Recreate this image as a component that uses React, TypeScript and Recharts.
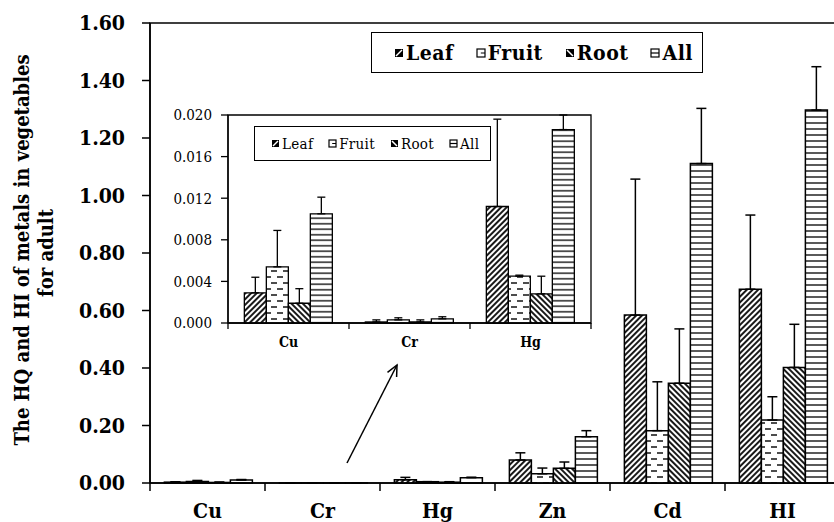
import React from "react";
import { Bar, BarChart, ErrorBar, ReferenceArea, XAxis, YAxis } from "recharts";

const categories = ["Cu", "Cr", "Hg", "Zn", "Cd", "HI"];
const insetCategories = ["Cu", "Cr", "Hg"];
const seriesNames = ["Leaf", "Fruit", "Root", "All"];

const leafValues = [0.0029, 0.0001, 0.0112, 0.08, 0.584, 0.674];
const leafErrors = [0.0015, 0.0002, 0.0084, 0.025, 0.473, 0.258];
const fruitValues = [0.0054, 0.0003, 0.0045, 0.032, 0.182, 0.219];
const fruitErrors = [0.0035, 0.0002, 0.0001, 0.02, 0.17, 0.081];
const rootValues = [0.0019, 0.0001, 0.0028, 0.051, 0.347, 0.402];
const rootErrors = [0.0014, 0.0002, 0.0017, 0.022, 0.189, 0.15];
const allValues = [0.0105, 0.0004, 0.0186, 0.161, 1.111, 1.297];
const allErrors = [0.0016, 0.0002, 0.0014, 0.021, 0.192, 0.151];

const mainTicks = [0, 0.2, 0.4, 0.6, 0.8, 1.0, 1.2, 1.4, 1.6];
const insetTicks = [0, 0.004, 0.008, 0.012, 0.016, 0.02];

const data = categories.map((name, i) => ({
  name,
  leaf: leafValues[i],
  leafErr: [0, leafErrors[i]],
  fruit: fruitValues[i],
  fruitErr: [0, fruitErrors[i]],
  root: rootValues[i],
  rootErr: [0, rootErrors[i]],
  all: allValues[i],
  allErr: [0, allErrors[i]],
}));
const insetData = data.filter((d) => insetCategories.includes(d.name));

const SERIF = "DejaVu Serif Condensed, DejaVu Serif, serif";

// main plot: left 150, top 23, width 690, bottom 483
const MAIN_BAND = 690 / categories.length;
// inset plot: left 228 (page), top 115, width 363, height 208
const INSET_BAND = 363 / insetCategories.length;

function Patterns({ prefix, allGap }: { prefix: string; allGap: number }) {
  return (
    <defs>
      <pattern id={prefix + "leaf"} width={4} height={4} patternUnits="userSpaceOnUse" patternTransform="rotate(45)">
        <rect width={4} height={4} fill="#fff" />
        <line x1={1} y1={0} x2={1} y2={4} stroke="#000" strokeWidth={1.8} />
      </pattern>
      <pattern id={prefix + "root"} width={4} height={4} patternUnits="userSpaceOnUse" patternTransform="rotate(-45)">
        <rect width={4} height={4} fill="#fff" />
        <line x1={1} y1={0} x2={1} y2={4} stroke="#000" strokeWidth={1.8} />
      </pattern>
      <pattern id={prefix + "all"} width={8} height={allGap} patternUnits="userSpaceOnUse">
        <rect width={8} height={allGap} fill="#fff" />
        <line x1={0} y1={allGap / 2} x2={8} y2={allGap / 2} stroke="#000" strokeWidth={1.3} />
      </pattern>
      <pattern id={prefix + "fruit"} width={12} height={12} patternUnits="userSpaceOnUse">
        <rect width={12} height={12} fill="#fff" />
        <line x1={3} y1={3} x2={9} y2={3} stroke="#000" strokeWidth={1.4} />
        <line x1={-3} y1={9} x2={3} y2={9} stroke="#000" strokeWidth={1.4} />
        <line x1={9} y1={9} x2={15} y2={9} stroke="#000" strokeWidth={1.4} />
      </pattern>
    </defs>
  );
}

function Swatch({ kind, size }: { kind: string; size: number }) {
  const s = size;
  return (
    <svg width={s + 2} height={s + 2} style={{ marginRight: 2, flex: "none" }}>
      {kind === "Leaf" && (
        <g>
          <rect x={1} y={1} width={s} height={s} fill="#000" />
          <line x1={2} y1={s} x2={s} y2={2} stroke="#fff" strokeWidth={1.5} />
        </g>
      )}
      {kind === "Root" && (
        <g>
          <rect x={1} y={1} width={s} height={s} fill="#000" />
          <line x1={2} y1={2} x2={s} y2={s} stroke="#fff" strokeWidth={1.5} />
        </g>
      )}
      {kind === "Fruit" && (
        <g>
          <rect x={1} y={1} width={s} height={s} fill="#fff" stroke="#000" strokeWidth={1.2} />
          <line x1={s * 0.6} y1={s / 2 + 1} x2={s + 1} y2={s / 2 + 1} stroke="#000" strokeWidth={1} />
        </g>
      )}
      {kind === "All" && (
        <g>
          <rect x={1} y={1} width={s} height={s} fill="#fff" stroke="#000" strokeWidth={1.2} />
          <line x1={1} y1={s / 2 + 1} x2={s + 1} y2={s / 2 + 1} stroke="#000" strokeWidth={1.2} />
        </g>
      )}
    </svg>
  );
}

function LegendBox(props: {
  left: number; top: number; width: number; height: number;
  fontSize: number; bold: boolean; gap: number; pad: number; swatch: number; spacing: number;
}) {
  return (
    <div
      style={{
        position: "absolute", left: props.left, top: props.top, width: props.width, height: props.height,
        boxSizing: "border-box", border: "1.5px solid #000", background: "#fff",
        display: "flex", alignItems: "center", paddingLeft: props.pad, gap: props.gap,
        fontFamily: SERIF, fontSize: props.fontSize, fontWeight: props.bold ? "bold" : "normal",
        fontStyle: "normal", letterSpacing: props.spacing, color: "#000", zIndex: 3, whiteSpace: "nowrap",
      }}
    >
      {seriesNames.map((n) => (
        <div key={n} style={{ display: "flex", alignItems: "center" }}>
          <Swatch kind={n} size={props.swatch} />
          <span>{n}</span>
        </div>
      ))}
    </div>
  );
}

const MainTick = (props: any) => {
  const { x, payload, index } = props;
  const last = index === categories.length - 1;
  return (
    <g>
      <line x1={x - MAIN_BAND / 2} x2={x - MAIN_BAND / 2} y1={483} y2={491} stroke="#000" strokeWidth={1.5} />
      {last && <line x1={x + MAIN_BAND / 2} x2={x + MAIN_BAND / 2} y1={483} y2={491} stroke="#000" strokeWidth={1.5} />}
      <text x={x} y={518} textAnchor="middle" fontFamily={SERIF} fontWeight="bold" fontSize={21} fill="#000">
        {payload.value}
      </text>
    </g>
  );
};

const InsetTick = (props: any) => {
  const { x, payload, index } = props;
  const last = index === insetCategories.length - 1;
  return (
    <g>
      <line x1={x - INSET_BAND / 2} x2={x - INSET_BAND / 2} y1={223} y2={229} stroke="#000" strokeWidth={1.3} />
      {last && <line x1={x + INSET_BAND / 2} x2={x + INSET_BAND / 2} y1={223} y2={229} stroke="#000" strokeWidth={1.3} />}
      <text x={x} y={247} textAnchor="middle" fontFamily={SERIF} fontWeight="bold" fontSize={14} fill="#000">
        {payload.value}
      </text>
    </g>
  );
};

function seriesBars(prefix: string, capWidth: number, stroke: number) {
  const keys = ["leaf", "fruit", "root", "all"];
  return keys.map((k) => (
    <Bar key={k} dataKey={k} fill={`url(#${prefix}${k})`} stroke="#000" strokeWidth={stroke} isAnimationActive={false}>
      <ErrorBar dataKey={k + "Err"} width={capWidth} stroke="#000" strokeWidth={stroke} direction="y" />
    </Bar>
  ));
}

export default function App() {
  const axisStroke = { stroke: "#000", strokeWidth: 1.5 };
  return (
    <div style={{ position: "absolute", left: 0, top: 0, width: 834, height: 522, overflow: "hidden", background: "#fff" }}>
      <BarChart
        width={840}
        height={522}
        data={data}
        margin={{ top: 23, right: 0, bottom: 0, left: 0 }}
        barCategoryGap="12.5%"
        barGap={0}
      >
        <Patterns prefix="m" allGap={6} />
        <ReferenceArea x1="Cu" x2="HI" y1={0} y2={1.6} fill="none" stroke="#000" strokeWidth={1.5} />
        <XAxis dataKey="name" height={39} interval={0} axisLine={axisStroke} tickLine={false} tick={MainTick} />
        <YAxis
          width={150}
          domain={[0, 1.6]}
          ticks={mainTicks}
          tickFormatter={(v: number) => v.toFixed(2)}
          tickSize={8}
          tickMargin={17}
          axisLine={axisStroke}
          tickLine={axisStroke}
          tick={{ fill: "#000", fontSize: 21, fontWeight: "bold", fontFamily: SERIF }}
        />
        {seriesBars("m", 5, 1.5)}
      </BarChart>

      <div style={{ position: "absolute", left: 160, top: 100, zIndex: 2 }}>
        <BarChart
          width={434}
          height={255}
          data={insetData}
          margin={{ top: 15, right: 3, bottom: 0, left: 0 }}
          barCategoryGap="13.5%"
          barGap={0}
        >
          <Patterns prefix="i" allGap={5.5} />
          <ReferenceArea x1="Cu" x2="Hg" y1={0} y2={0.02} fill="none" stroke="#000" strokeWidth={1.3} />
          <XAxis dataKey="name" height={32} interval={0} axisLine={{ stroke: "#000", strokeWidth: 1.3 }} tickLine={false} tick={InsetTick} />
          <YAxis
            width={68}
            domain={[0, 0.02]}
            ticks={insetTicks}
            tickFormatter={(v: number) => v.toFixed(3)}
            tickSize={7}
            tickMargin={9}
            axisLine={{ stroke: "#000", strokeWidth: 1.3 }}
            tickLine={{ stroke: "#000", strokeWidth: 1.3 }}
            tick={{ fill: "#000", fontSize: 15, fontFamily: SERIF }}
          />
          {seriesBars("i", 4, 1.3)}
        </BarChart>
      </div>

      <LegendBox left={371} top={32} width={332} height={41} fontSize={21} bold gap={22} pad={22} swatch={8} spacing={0.5} />
      <LegendBox left={254} top={126} width={237} height={35} fontSize={15} bold={false} gap={15} pad={16} swatch={7} spacing={0.3} />

      <svg width={834} height={522} style={{ position: "absolute", left: 0, top: 0, zIndex: 4, pointerEvents: "none" }}>
        <text
          transform="translate(29 250) rotate(-90)"
          textAnchor="middle"
          fontFamily={SERIF}
          fontWeight="bold"
          fontSize={20}
          fill="#000"
        >
          The HQ and HI of metals in vegetables
        </text>
        <text
          transform="translate(53 253) rotate(-90)"
          textAnchor="middle"
          fontFamily={SERIF}
          fontWeight="bold"
          fontSize={20}
          fill="#000"
        >
          for adult
        </text>
        <line x1={347} y1={463} x2={397} y2={365} stroke="#000" strokeWidth={1.5} />
        <polyline points="387.5,372.4 397,365 396.6,377" fill="none" stroke="#000" strokeWidth={1.5} />
      </svg>
    </div>
  );
}
